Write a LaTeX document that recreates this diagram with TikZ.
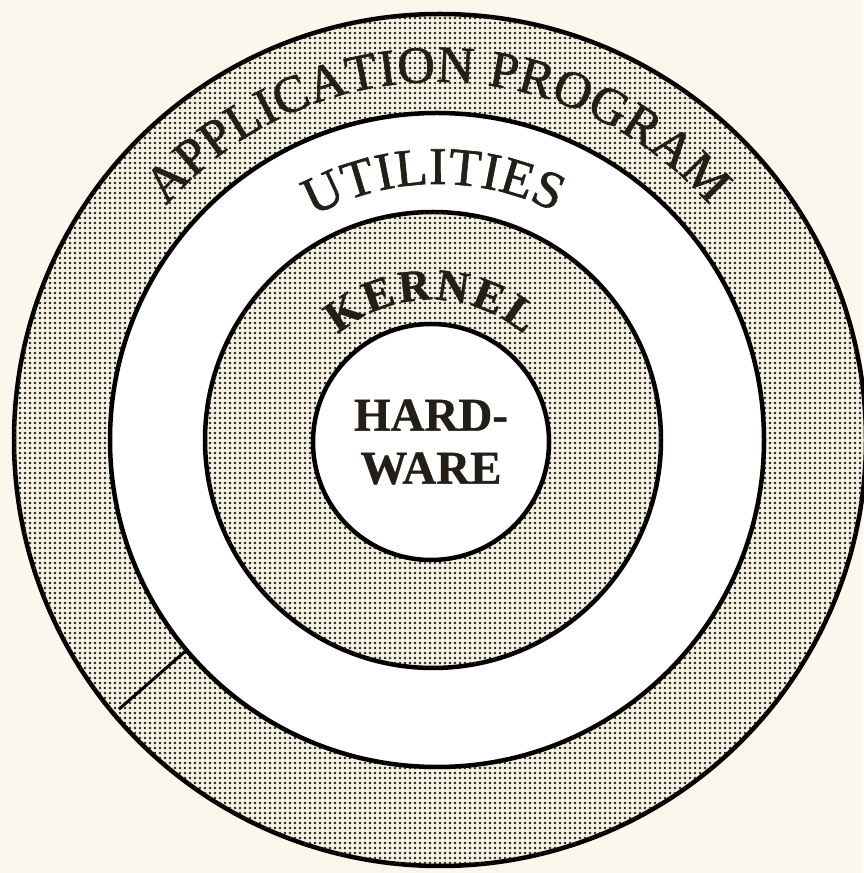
\documentclass[tikz,border=0pt]{standalone}
\usepackage{fontspec}
\setmainfont{Liberation Serif}
\newfontfamily\heavyserif{Liberation Serif}[FakeBold=1.2]
\newfontfamily\heavybold{Liberation Serif Bold}[FakeBold=0.8]
\usetikzlibrary{decorations.text,patterns.meta}
\definecolor{paper}{RGB}{250,247,237}
\definecolor{ink}{RGB}{35,30,22}
\definecolor{dotbg}{RGB}{244,240,226}
\begin{document}
\begin{tikzpicture}[x=1pt,y=1pt,
  ring/.style={circle, draw=black, line width=4.5pt, inner sep=0pt, outer sep=0pt},
  stipple/.style={fill=dotbg, postaction={pattern={Dots[distance=5pt,radius=1.35pt]}, pattern color=ink}},
  blank/.style={fill=white},
  arctext/.style={decorate, decoration={text along path, text align=fit to path, text color=ink, text={#1}}}]
\useasboundingbox (0,0) rectangle (863,873);
\fill[paper] (0,0) rectangle (863,873);
\coordinate (ctr) at (438,431);
\node[ring, stipple, minimum size=852pt] (outer) at (440,433) {};
\node[ring, blank, minimum size=654pt] (utl) at (437,433) {};
\node[ring, stipple, minimum size=456pt] (kern) at (433,433) {};
\node[ring, blank, minimum size=236pt] (hw) at (431,431) {};
\draw[line width=3pt, shorten >=7pt] (utl.220) -- (outer.220);
\path[arctext={|\heavyserif\fontsize{52}{60}\selectfont|APPLICATION PROGRAM}]
  (ctr) ++(139:360) arc[start angle=139, end angle=41, radius=360];
\path[arctext={|\heavyserif\fontsize{53}{60}\selectfont|UTILITIES}]
  (ctr) ++(119:258) arc[start angle=119, end angle=63, radius=258];
\path[arctext={|\heavybold\fontsize{45}{52}\selectfont|KERNEL}]
  (hw.center) ++(131:142) arc[start angle=131, end angle=49, radius=142];
\node[text=ink, font=\heavybold\fontsize{47}{53}\selectfont, align=center] (hwt) at (hw.center) {HARD-\\WARE};
\end{tikzpicture}
\end{document}
